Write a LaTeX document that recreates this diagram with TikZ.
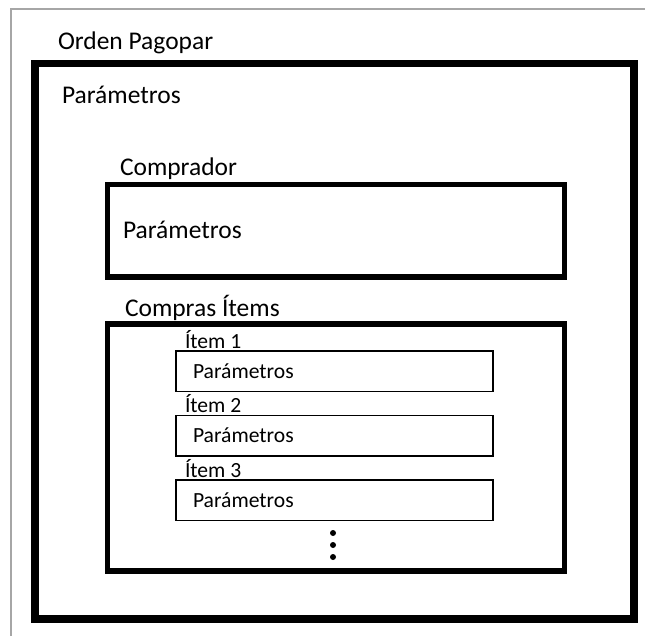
\documentclass[tikz,border=0pt]{standalone}
\usepackage{fontspec}
\setmainfont{Carlito}
\begin{document}
\begin{tikzpicture}[x=0.02cm, y=-0.02cm, every node/.style={inner sep=0pt, outer sep=0pt},
    heavybox/.style={rectangle, draw, line width=4.5pt, anchor=north west},
    midbox/.style={rectangle, draw, line width=3.1pt, anchor=north west, minimum width=9.14cm},
    itembox/.style={rectangle, draw, line width=1.1pt, anchor=north west, minimum width=6.34cm, minimum height=0.81cm},
    biglabel/.style={anchor=base west, font=\fontsize{14.5}{17}\selectfont},
    smalllabel/.style={anchor=base west, font=\fontsize{12.3}{15}\selectfont}]

    \useasboundingbox (0,0) rectangle (645,636);

    % Page frame.
    \draw[gray!70, line width=0.8pt] (11,636) |- (645,9);

    % Order.
    \node[biglabel] (orden-title) at (58,49) {Orden Pagopar};
    \node[heavybox, minimum width=11.98cm, minimum height=11.12cm] (orden) at (35,63.5) {};
    \node[biglabel] (orden-param) at (62,103) {Parámetros};

    % Buyer.
    \node[biglabel] (comprador-title) at (120,175) {Comprador};
    \node[midbox, minimum height=1.85cm] (comprador) at (107.5,184.5) {};
    \node[biglabel] (comprador-param) at (123,238) {Parámetros};

    % Purchased items.
    \node[biglabel] (compras-title) at (125,316) {Compras Ítems};
    \node[midbox, minimum height=4.94cm] (compras) at (107.5,324) {};

    \foreach \i/\y in {1/351,2/415.5,3/480} {
        \node[smalllabel] (item-title-\i) at (185,\y-3) {Ítem \i};
        \node[itembox] (item-\i) at (176,\y) {};
        \node[smalllabel] (item-param-\i) at (193,\y+27) {Parámetros};
    }

    % More items.
    \foreach \y in {533,545,557}
        \node[circle, fill=black, minimum size=0.12cm] (dot-\y) at (333,\y) {};

\end{tikzpicture}
\end{document}
